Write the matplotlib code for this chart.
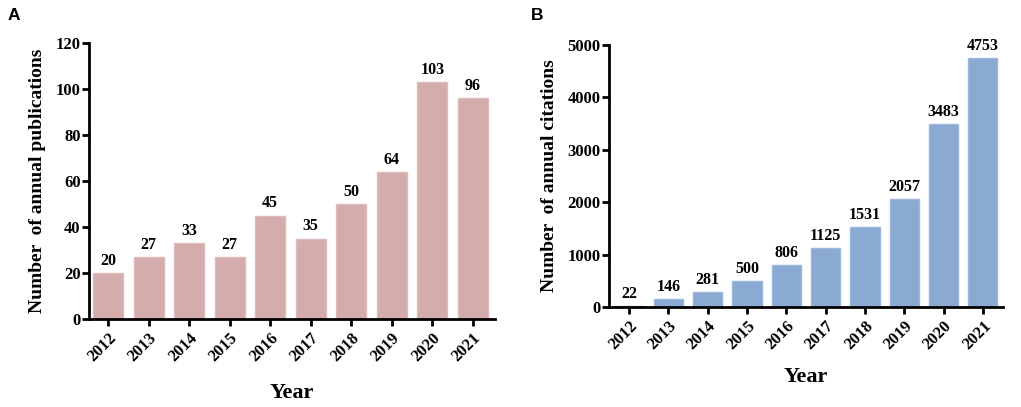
import matplotlib
matplotlib.use('Agg')
import matplotlib.pyplot as plt
import numpy as np

years = ['2012', '2013', '2014', '2015', '2016', '2017', '2018', '2019', '2020', '2021']
publications = [20, 27, 33, 27, 45, 35, 50, 64, 103, 96]
citations = [22, 146, 281, 500, 806, 1125, 1531, 2057, 3483, 4753]

plt.rcParams['font.family'] = ['Liberation Serif', 'DejaVu Serif']
plt.rcParams['font.weight'] = 'bold'

fig = plt.figure(figsize=(10.21, 4.07), dpi=100)
W, H = 1021.0, 407.0

def panel(rect, values, color, edge, ylim, yticks, ylabel, letter, letter_pos, xlim, xlpad):
	l, t, r, b = rect
	ax = fig.add_axes([l / W, 1 - b / H, (r - l) / W, (b - t) / H])
	x = np.arange(len(values))
	ax.bar(x, values, width=0.74, color=color, edgecolor=edge, linewidth=1.0)
	for xi, v in zip(x, values):
		ax.annotate(str(v), (xi, v), xytext=(0, 3), textcoords='offset points',
			ha='center', va='bottom', fontsize=11.5, fontweight='bold')
	ax.set_xlim(*xlim)
	ax.set_ylim(*ylim)
	ax.set_yticks(yticks)
	ax.set_xticks(x)
	ax.set_xticklabels(years, rotation=45, ha='right', rotation_mode='anchor')
	for s in ['top', 'right']:
		ax.spines[s].set_visible(False)
	for s in ['left', 'bottom']:
		ax.spines[s].set_linewidth(2.0)
	ax.tick_params(axis='both', width=2.0, length=5, labelsize=12, pad=1)
	ax.tick_params(axis='x', pad=3)
	ax.set_ylabel(ylabel, fontsize=14, fontweight='bold', labelpad=7)
	ax.set_xlabel('Year', fontsize=16, fontweight='bold', labelpad=xlpad)
	fig.text(letter_pos[0] / W, 1 - letter_pos[1] / H, letter, fontsize=12.5,
		fontweight='bold', family='Liberation Sans', ha='left', va='center')
	return ax

panel((89, 43, 495, 319), publications, '#D5ACAC', '#DDBBBB', (0, 120),
	[0, 20, 40, 60, 80, 100, 120], 'Number  of annual publications', 'A', (8, 15), (-0.47, 9.55), 13)
panel((609, 45, 1003, 307), citations, '#8AA9D3', '#9DB7DB', (0, 5000),
	[0, 1000, 2000, 3000, 4000, 5000], 'Number  of annual citations', 'B', (531, 15), (-0.51, 9.51), 10)

fig.savefig('out.png', dpi=100)
